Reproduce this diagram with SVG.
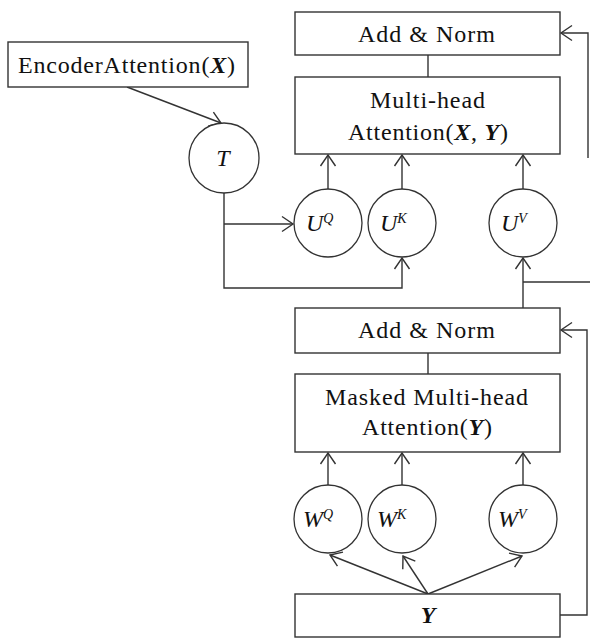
<svg xmlns="http://www.w3.org/2000/svg" width="590" height="639" viewBox="0 0 590 639" font-family="Liberation Serif, Times New Roman, serif">
  <style>
    .box { fill: #fff; stroke: #333; stroke-width: 1.4; }
    .node { fill: #fff; stroke: #333; stroke-width: 1.3; }
    .wire { fill: none; stroke: #333; stroke-width: 1.4; }
    .arrow { fill: none; stroke: #333; stroke-width: 1.4; marker-end: url(#open); }
    .t { font-size: 24px; fill: #111; }
    .c { text-anchor: middle; }
    .v { font-style: italic; font-weight: bold; }
    .i { font-style: italic; }
    .sup { font-size: 14px; font-style: italic; }
  </style>
  <defs>
    <marker id="open" viewBox="-12 -9 14 18" markerWidth="14" markerHeight="18" refX="0" refY="0" orient="auto" markerUnits="userSpaceOnUse">
      <path d="M-11,-7.5 L0,0 L-11,7.5" fill="none" stroke="#333" stroke-width="1.4"/>
    </marker>
  </defs>

  <rect width="590" height="639" fill="#fff"/>

  <g id="connectors">
    <line class="arrow" x1="127" y1="87" x2="221" y2="123"/>
    <polyline class="arrow" points="224,193 224,288 402,288 402,258"/>
    <line class="arrow" x1="224" y1="224" x2="293" y2="224"/>
    <line class="arrow" x1="328" y1="189" x2="328" y2="155"/>
    <line class="arrow" x1="402" y1="189" x2="402" y2="155"/>
    <line class="arrow" x1="523" y1="189" x2="523" y2="155"/>
    <line class="wire" x1="428" y1="55" x2="428" y2="77"/>
    <polyline class="arrow" points="588,158 588,33 561,33"/>
    <line class="arrow" x1="523" y1="308" x2="523" y2="258"/>
    <line class="wire" x1="523" y1="282" x2="590" y2="282"/>
    <line class="wire" x1="428" y1="353" x2="428" y2="374"/>
    <polyline class="arrow" points="560,615 587,615 587,330 561,330"/>
    <line class="arrow" x1="328" y1="485" x2="328" y2="453"/>
    <line class="arrow" x1="402" y1="485" x2="402" y2="453"/>
    <line class="arrow" x1="523" y1="485" x2="523" y2="453"/>
    <line class="arrow" x1="428" y1="594" x2="330" y2="555"/>
    <line class="arrow" x1="428" y1="594" x2="403" y2="556"/>
    <line class="arrow" x1="428" y1="594" x2="522" y2="556"/>
  </g>

  <g id="encoder-attention">
    <rect class="box" x="8" y="42" width="240" height="45"/>
    <text class="t" x="18" y="73" textLength="217">EncoderAttention(<tspan class="v">X</tspan>)</text>
  </g>

  <g id="t-node">
    <circle class="node" cx="224" cy="158" r="35"/>
    <text class="t c i" x="223" y="166">T</text>
  </g>

  <g id="add-norm-top">
    <rect class="box" x="295" y="12" width="265" height="43"/>
    <text class="t" x="358" y="42" textLength="137">Add &amp; Norm</text>
  </g>

  <g id="multihead-attention">
    <rect class="box" x="295" y="77" width="265" height="77"/>
    <text class="t" x="370" y="108" textLength="115">Multi-head</text>
    <text class="t" x="348" y="140" textLength="160">Attention(<tspan class="v">X</tspan>, <tspan class="v">Y</tspan>)</text>
  </g>

  <g id="u-q">
    <circle class="node" cx="328" cy="223" r="34"/>
    <text class="t" x="306" y="231"><tspan class="i">U</tspan><tspan class="sup" dy="-8">Q</tspan></text>
  </g>
  <g id="u-k">
    <circle class="node" cx="402" cy="223" r="34"/>
    <text class="t" x="380" y="231"><tspan class="i">U</tspan><tspan class="sup" dy="-8">K</tspan></text>
  </g>
  <g id="u-v">
    <circle class="node" cx="523" cy="223" r="34"/>
    <text class="t" x="501" y="231"><tspan class="i">U</tspan><tspan class="sup" dy="-8">V</tspan></text>
  </g>

  <g id="add-norm-bottom">
    <rect class="box" x="295" y="308" width="265" height="45"/>
    <text class="t" x="358" y="338" textLength="137">Add &amp; Norm</text>
  </g>

  <g id="masked-attention">
    <rect class="box" x="295" y="374" width="265" height="78"/>
    <text class="t" x="325" y="405" textLength="203">Masked Multi-head</text>
    <text class="t" x="362" y="435" textLength="130">Attention(<tspan class="v">Y</tspan>)</text>
  </g>

  <g id="w-q">
    <circle class="node" cx="328" cy="519" r="34"/>
    <text class="t" x="303" y="527"><tspan class="i">W</tspan><tspan class="sup" dy="-8">Q</tspan></text>
  </g>
  <g id="w-k">
    <circle class="node" cx="402" cy="519" r="34"/>
    <text class="t" x="377" y="527"><tspan class="i">W</tspan><tspan class="sup" dy="-8">K</tspan></text>
  </g>
  <g id="w-v">
    <circle class="node" cx="523" cy="519" r="34"/>
    <text class="t" x="498" y="527"><tspan class="i">W</tspan><tspan class="sup" dy="-8">V</tspan></text>
  </g>

  <g id="y-input">
    <rect class="box" x="295" y="594" width="265" height="43"/>
    <text class="t c v" x="428" y="623">Y</text>
  </g>
</svg>
